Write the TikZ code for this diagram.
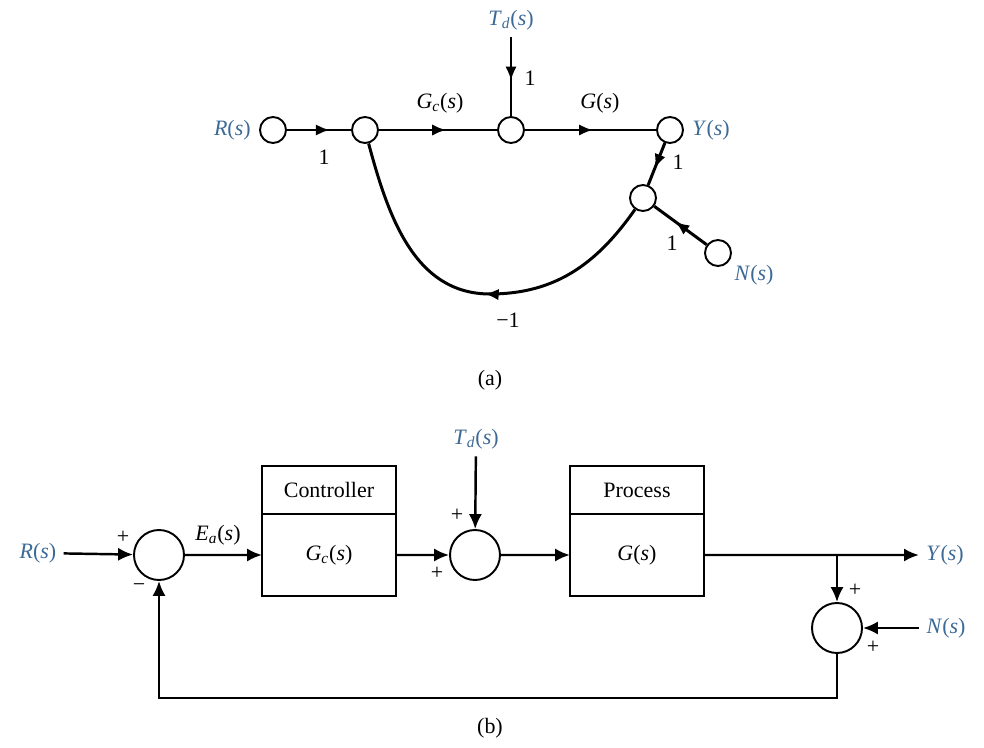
\documentclass[tikz,border=0pt]{standalone}
\usepackage{fontspec}
\setmainfont{Liberation Serif}
\usepackage{tikz}
\usetikzlibrary{arrows.meta, positioning, decorations.markings}
\definecolor{sigblue}{RGB}{60,105,150}
\newcommand{\sig}[1]{\textit{#1}(\textit{s})}
\newcommand{\sigsub}[2]{\textit{#1}\textsubscript{\textit{#2}}(\textit{s})}

\begin{document}
\begin{tikzpicture}[
    font=\fontsize{12.5}{15}\selectfont,
    sfgnode/.style={circle, draw, line width=1.1pt, minimum size=0.52cm, inner sep=0pt},
    sumnode/.style={circle, draw, line width=1.1pt, minimum size=1cm, inner sep=0pt},
    blockhead/.style={draw, line width=1.1pt, minimum width=2.68cm, minimum height=0.96cm, inner sep=0pt, outer sep=0pt},
    blockbody/.style={draw, line width=1.1pt, minimum width=2.68cm, minimum height=1.64cm, inner sep=0pt, outer sep=0pt},
    siglabel/.style={text=sigblue, inner sep=4pt},
    flowedge/.style={line width=1.7pt, postaction={decorate},
        decoration={markings, mark=at position #1 with {\arrow{Latex[length=8pt,width=6.5pt]}}}},
    flowedge/.default=0.6,
    sig/.style={line width=1.4pt, -{Latex[length=8.5pt,width=7.5pt]}},
]
\useasboundingbox (0,0) rectangle (19.68,-14.96);

% (a) signal-flow graph
\node[sfgnode] (R) at (5.46,-2.6) {};
\node[sfgnode] (E) at (7.3,-2.6) {};
\node[sfgnode] (U) at (10.22,-2.6) {};
\node[sfgnode] (Y) at (13.4,-2.6) {};
\node[sfgnode] (M) at (12.86,-3.96) {};
\node[sfgnode] (N) at (14.36,-5.06) {};
\coordinate (fbot) at (9.8,-5.88);

\node[siglabel, left=0.02cm of R] (rlabA) {\sig{R}};
\node[siglabel, right=0.02cm of Y] (ylabA) {\sig{Y}};
\node[siglabel] (nlabA) at (15.08,-5.5) {\sig{N}};
\node[siglabel] (tdlabA) at (10.22,-0.4) {\sigsub{T}{d}};

\draw[flowedge=0.67] (R) -- (E);
\draw[flowedge=0.57] (E) -- (U);
\draw[flowedge=0.52] (U) -- (Y);
\draw[flowedge=0.55] (tdlabA) -- (U);
\draw[flowedge=0.6] (Y) -- (M);
\draw[flowedge=0.6] (N) -- (M);
\draw[flowedge=0.47] (M) to[out=235,in=0] (fbot) to[out=180,in=-75] (E);

\node (gainR) at (6.48,-3.14) {1};
\node (gainGc) at (8.8,-2.06) {\sigsub{G}{c}};
\node (gainTd) at (10.6,-1.56) {1};
\node (gainG) at (12,-2.06) {\sig{G}};
\node (gainY) at (13.56,-3.24) {1};
\node (gainN) at (13.44,-4.86) {1};
\node (gainFb) at (10.16,-6.4) {−1};
\node (capA) at (9.8,-7.6) {(a)};

% (b) block diagram
\node[sumnode] (sum1) at (3.18,-11.1) {};
\node[blockhead] (ctrlhead) at (6.58,-9.8) {Controller};
\node[blockbody, below=0pt of ctrlhead] (ctrl) {\sigsub{G}{c}};
\node[sumnode] (sum2) at (9.5,-11.1) {};
\node[blockhead] (prochead) at (12.74,-9.8) {Process};
\node[blockbody, below=0pt of prochead] (proc) {\sig{G}};
\node[sumnode] (sum3) at (16.74,-12.56) {};

\node[siglabel] (rlab) at (0.76,-11.06) {\sig{R}};
\node[siglabel] (tdlab) at (9.52,-8.78) {\sigsub{T}{d}};
\node[siglabel] (ylab) at (18.9,-11.1) {\sig{Y}};
\node[siglabel] (nlab) at (18.92,-12.56) {\sig{N}};

\coordinate (tap) at (16.74,-11.1);
\coordinate (fbk) at (9.8,-13.96);

\draw[sig] (rlab) -- (sum1);
\draw[sig] (sum1) -- (ctrl);
\draw[sig] (ctrl) -- (sum2);
\draw[sig] (tdlab) -- (sum2);
\draw[sig] (sum2) -- (proc);
\draw[sig] (proc) -- (ylab);
\draw[sig] (tap) -- (sum3);
\draw[sig] (nlab) -- (sum3);
\draw[sig] (sum3) |- (fbk) -| (sum1);

\node (ea) at (4.36,-10.7) {\sigsub{E}{a}};
\node (p1) at (2.46,-10.74) {+};
\node (m1) at (2.78,-11.76) {−};
\node (p2) at (8.74,-11.46) {+};
\node (p3) at (9.14,-10.3) {+};
\node (p4) at (17.1,-11.8) {+};
\node (p5) at (17.46,-12.94) {+};
\node (capB) at (9.8,-14.56) {(b)};
\end{tikzpicture}
\end{document}
